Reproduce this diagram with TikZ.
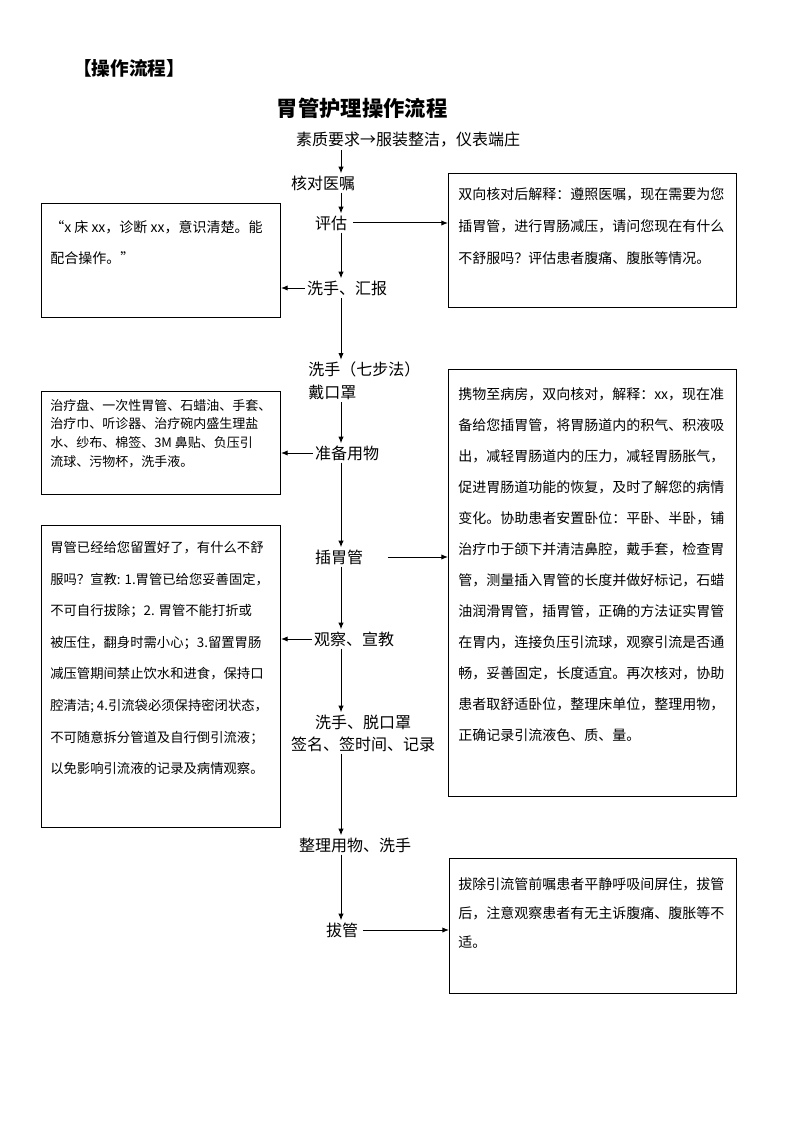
\documentclass[tikz,border=0pt]{standalone}
\usepackage{fontspec}
\setmainfont{Noto Sans CJK SC}
\usetikzlibrary{arrows.meta}

\begin{document}
\begin{tikzpicture}[x=0.75pt, y=-0.75pt,
    stepnode/.style={font=\fontsize{12pt}{17pt}\selectfont, inner sep=1.5pt},
    notebox/.style={draw, line width=0.75pt, anchor=north west, inner sep=0pt},
    notetext/.style={anchor=north west, align=left, inner sep=0pt},
    arrowline/.style={line width=0.75pt, -{Latex[length=5pt,width=4pt]}}]
    \useasboundingbox (0,0) rectangle (794,1123);
    \coordinate (spine) at (341,0);

    \node[font=\fontsize{14pt}{17pt}\selectfont\bfseries] (heading) at (129,68) {【操作流程】};
    \node[font=\fontsize{16pt}{19pt}\selectfont\bfseries] (title) at (362,108) {胃管护理操作流程};

    \node[stepnode] (quality)  at (408,140) {素质要求→服装整洁，仪表端庄};
    \node[stepnode] (check)    at (323,183) {核对医嘱};
    \node[stepnode] (assess)   at (331,223) {评估};
    \node[stepnode] (report)   at (347,288) {洗手、汇报};
    \node[stepnode, anchor=west, align=left, font=\fontsize{12pt}{17.25pt}\selectfont]
        (handwash) at (306,381) {洗手（七步法）\\戴口罩};
    \node[stepnode] (prepare)  at (347,453) {准备用物};
    \node[stepnode] (insert)   at (339,557) {插胃管};
    \node[stepnode] (observe)  at (354,639) {观察、宣教};
    \node[stepnode, align=center, font=\fontsize{12pt}{16.5pt}\selectfont]
        (finish) at (363,733) {洗手、脱口罩\\签名、签时间、记录};
    \node[stepnode] (tidy)     at (355,845) {整理用物、洗手};
    \node[stepnode] (remove)   at (342,930) {拔管};

    \node[notebox, minimum width=216pt, minimum height=100.5pt] (assessnote) at (448,173) {};
    \node[notebox, minimum width=179.25pt, minimum height=85.5pt] (reportnote) at (41,203) {};
    \node[notebox, minimum width=179.25pt, minimum height=77.25pt] (preparenote) at (41,391) {};
    \node[notebox, minimum width=216pt, minimum height=320.25pt] (insertnote) at (448,369) {};
    \node[notebox, minimum width=179.25pt, minimum height=226.5pt] (observenote) at (41,525) {};
    \node[notebox, minimum width=215.25pt, minimum height=101.25pt] (removenote) at (449,858) {};

    \node[notetext, font=\fontsize{10.5pt}{24pt}\selectfont] (assesstext)
        at ([shift={(10,14)}]assessnote.north west)
        {双向核对后解释：遵照医嘱，现在需要为您\\
         插胃管，进行胃肠减压，请问您现在有什么\\
         不舒服吗？评估患者腹痛、腹胀等情况。};
    \node[notetext, font=\fontsize{10.5pt}{23.25pt}\selectfont] (reporttext)
        at ([shift={(9,17)}]reportnote.north west)
        {“x 床 xx，诊断 xx，意识清楚。能\\
         配合操作。”};
    \node[notetext, font=\fontsize{9.75pt}{14pt}\selectfont] (preparetext)
        at ([shift={(9,8)}]preparenote.north west)
        {治疗盘、一次性胃管、石蜡油、手套、\\
         治疗巾、听诊器、治疗碗内盛生理盐\\
         水、纱布、棉签、3M 鼻贴、负压引\\
         流球、污物杯，洗手液。};
    \node[notetext, font=\fontsize{10.5pt}{23.3pt}\selectfont] (inserttext)
        at ([shift={(10,18)}]insertnote.north west)
        {携物至病房，双向核对，解释：xx，现在准\\
         备给您插胃管，将胃肠道内的积气、积液吸\\
         出，减轻胃肠道内的压力，减轻胃肠胀气，\\
         促进胃肠道功能的恢复，及时了解您的病情\\
         变化。协助患者安置卧位：平卧、半卧，铺\\
         治疗巾于颌下并清洁鼻腔，戴手套，检查胃\\
         管，测量插入胃管的长度并做好标记，石蜡\\
         油润滑胃管，插胃管，正确的方法证实胃管\\
         在胃内，连接负压引流球，观察引流是否通\\
         畅，妥善固定，长度适宜。再次核对，协助\\
         患者取舒适卧位，整理床单位，整理用物，\\
         正确记录引流液色、质、量。};
    \node[notetext, font=\fontsize{10pt}{23.7pt}\selectfont] (observetext)
        at ([shift={(9,16)}]observenote.north west)
        {胃管已经给您留置好了，有什么不舒\\
         服吗？宣教: 1.胃管已给您妥善固定，\\
         不可自行拔除；2. 胃管不能打折或\\
         被压住，翻身时需小心；3.留置胃肠\\
         减压管期间禁止饮水和进食，保持口\\
         腔清洁; 4.引流袋必须保持密闭状态，\\
         不可随意拆分管道及自行倒引流液；\\
         以免影响引流液的记录及病情观察。};
    \node[notetext, font=\fontsize{10.5pt}{22pt}\selectfont] (removetext)
        at ([shift={(9,19)}]removenote.north west)
        {拔除引流管前嘱患者平静呼吸间屏住，拔管\\
         后，注意观察患者有无主诉腹痛、腹胀等不\\
         适。};

    \draw[arrowline] (quality.south -| spine) -- (check.north -| spine);
    \draw[arrowline] (check.south -| spine) -- (assess.north -| spine);
    \draw[arrowline] (assess.south -| spine) -- (report.north -| spine);
    \draw[arrowline] (report.south -| spine) -- (handwash.north -| spine);
    \draw[arrowline] (handwash.south -| spine) -- (prepare.north -| spine);
    \draw[arrowline] (prepare.south -| spine) -- (insert.north -| spine);
    \draw[arrowline] (insert.south -| spine) -- (observe.north -| spine);
    \draw[arrowline] (observe.south -| spine) -- (finish.north -| spine);
    \draw[arrowline] (finish.south -| spine) -- (tidy.north -| spine);
    \draw[arrowline] (tidy.south -| spine) -- (remove.north -| spine);

    \draw[arrowline] ([xshift=3pt]assess.east) -- (assess.east -| assessnote.west);
    \draw[arrowline] (report.west) -- (report.west -| reportnote.east);
    \draw[arrowline] (prepare.west) -- (prepare.west -| preparenote.east);
    \draw[arrowline] ([xshift=17pt]insert.east) -- (insert.east -| insertnote.west);
    \draw[arrowline] (observe.west) -- (observe.west -| observenote.east);
    \draw[arrowline] ([xshift=2pt]remove.east) -- (remove.east -| removenote.west);
\end{tikzpicture}
\end{document}
